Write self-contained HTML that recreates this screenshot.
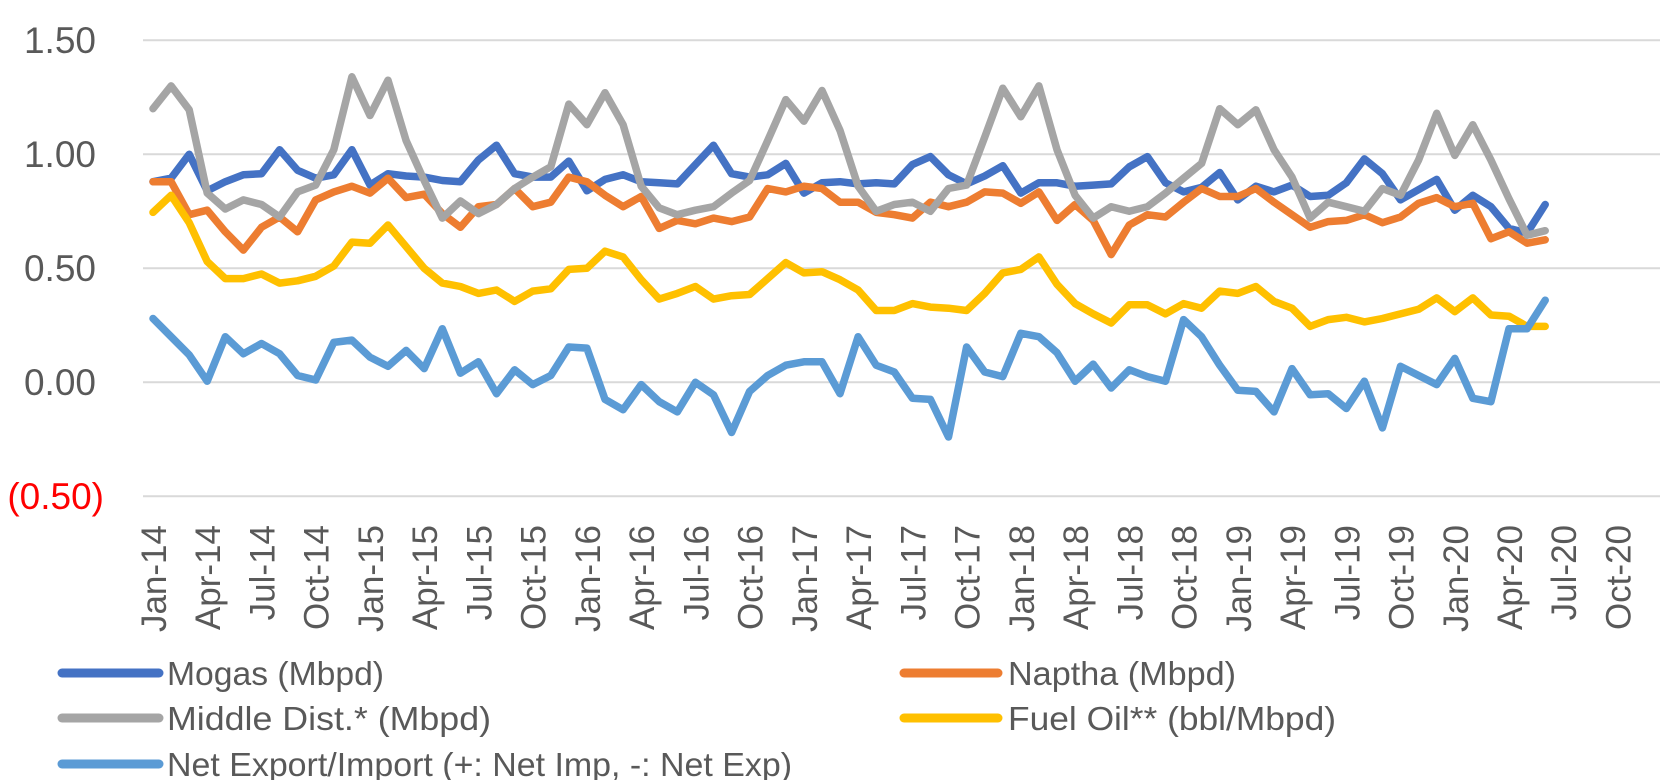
<!DOCTYPE html>
<html><head><meta charset="utf-8"><style>html,body{margin:0;padding:0;background:#fff;}svg{display:block;}</style></head>
<body>
<svg id="c" width="1678" height="780" xmlns="http://www.w3.org/2000/svg" font-family="'Liberation Sans', sans-serif">
<g stroke="#D9D9D9" stroke-width="2">
<line x1="143" y1="40.3" x2="1660" y2="40.3"/>
<line x1="143" y1="154.3" x2="1660" y2="154.3"/>
<line x1="143" y1="268.3" x2="1660" y2="268.3"/>
<line x1="143" y1="382.3" x2="1660" y2="382.3"/>
<line x1="143" y1="496.3" x2="1660" y2="496.3"/>
</g>
<g font-size="37" fill="#595959" text-anchor="end">
<text x="96" y="53">1.50</text>
<text x="96" y="167">1.00</text>
<text x="96" y="281">0.50</text>
<text x="96" y="395">0.00</text>
<text x="104" y="509" fill="#FF0000">(0.50)</text>
</g>
<g id="xl" font-size="35" fill="#595959" text-anchor="end"></g>
<g id="series" fill="none" stroke-width="7.5" stroke-linejoin="round" stroke-linecap="round"></g>
<g stroke-width="9" stroke-linecap="round">
<line x1="62" y1="673" x2="159" y2="673" stroke="#4472C4"/>
<line x1="62" y1="718" x2="159" y2="718" stroke="#A5A5A5"/>
<line x1="62" y1="764" x2="159" y2="764" stroke="#5B9BD5"/>
<line x1="904" y1="673" x2="998" y2="673" stroke="#ED7D31"/>
<line x1="904" y1="718" x2="998" y2="718" stroke="#FFC000"/>
</g>
<g font-size="33" fill="#595959">
<text x="167" y="685" textLength="217" lengthAdjust="spacingAndGlyphs">Mogas (Mbpd)</text>
<text x="167" y="730" textLength="324" lengthAdjust="spacingAndGlyphs">Middle Dist.* (Mbpd)</text>
<text x="167" y="776" textLength="625" lengthAdjust="spacingAndGlyphs">Net Export/Import (+: Net Imp, -: Net Exp)</text>
<text x="1008" y="685" textLength="228" lengthAdjust="spacingAndGlyphs">Naptha (Mbpd)</text>
<text x="1008" y="730" textLength="328" lengthAdjust="spacingAndGlyphs">Fuel Oil** (bbl/Mbpd)</text>
</g>
</svg>
<script>
const mog=[0.88,0.895,1.0,0.84,0.88,0.91,0.915,1.02,0.93,0.895,0.91,1.02,0.865,0.915,0.905,0.90,0.885,0.88,0.975,1.04,0.915,0.90,0.90,0.97,0.84,0.89,0.91,0.88,0.875,0.87,0.955,1.04,0.915,0.90,0.91,0.96,0.83,0.875,0.88,0.87,0.875,0.87,0.955,0.99,0.91,0.87,0.905,0.95,0.83,0.875,0.875,0.86,0.865,0.87,0.945,0.99,0.875,0.835,0.855,0.92,0.80,0.86,0.835,0.865,0.815,0.82,0.875,0.98,0.915,0.80,0.845,0.89,0.755,0.82,0.77,0.675,0.655,0.78];
const nap=[0.88,0.88,0.735,0.755,0.66,0.58,0.68,0.725,0.66,0.80,0.835,0.86,0.83,0.895,0.81,0.825,0.74,0.68,0.77,0.78,0.85,0.77,0.79,0.90,0.88,0.82,0.77,0.815,0.675,0.71,0.695,0.72,0.705,0.725,0.85,0.835,0.86,0.85,0.79,0.79,0.745,0.735,0.72,0.79,0.77,0.79,0.835,0.83,0.785,0.835,0.71,0.78,0.71,0.56,0.69,0.735,0.725,0.79,0.85,0.815,0.815,0.85,0.79,0.735,0.68,0.705,0.71,0.735,0.70,0.725,0.785,0.81,0.77,0.785,0.63,0.66,0.61,0.625];
const mid=[1.20,1.30,1.195,0.83,0.76,0.80,0.78,0.725,0.835,0.865,1.02,1.34,1.17,1.325,1.06,0.885,0.72,0.795,0.74,0.78,0.85,0.90,0.945,1.22,1.13,1.27,1.13,0.86,0.765,0.735,0.755,0.77,0.83,0.885,1.06,1.24,1.145,1.28,1.105,0.86,0.75,0.78,0.79,0.75,0.85,0.865,1.075,1.29,1.165,1.30,1.02,0.82,0.72,0.77,0.75,0.77,0.83,0.895,0.96,1.20,1.13,1.195,1.02,0.90,0.72,0.79,0.77,0.75,0.85,0.82,0.975,1.18,0.995,1.13,0.975,0.805,0.645,0.665];
const fuel=[0.745,0.82,0.70,0.53,0.455,0.455,0.475,0.435,0.445,0.465,0.51,0.615,0.61,0.69,0.595,0.50,0.435,0.42,0.39,0.405,0.355,0.40,0.41,0.495,0.50,0.575,0.55,0.45,0.365,0.39,0.42,0.365,0.38,0.385,0.455,0.525,0.48,0.485,0.45,0.405,0.315,0.315,0.345,0.33,0.325,0.315,0.39,0.48,0.495,0.55,0.43,0.345,0.30,0.26,0.34,0.34,0.30,0.345,0.325,0.40,0.39,0.42,0.355,0.325,0.245,0.275,0.285,0.265,0.28,0.30,0.32,0.37,0.31,0.37,0.295,0.29,0.245,0.245];
const net=[0.28,0.20,0.12,0.005,0.20,0.125,0.17,0.125,0.03,0.01,0.175,0.185,0.11,0.07,0.14,0.06,0.235,0.04,0.09,-0.05,0.055,-0.01,0.03,0.155,0.15,-0.075,-0.12,-0.01,-0.085,-0.13,0.0,-0.055,-0.22,-0.04,0.03,0.075,0.09,0.09,-0.05,0.20,0.075,0.045,-0.07,-0.075,-0.24,0.155,0.045,0.025,0.215,0.20,0.13,0.005,0.08,-0.025,0.055,0.025,0.005,0.275,0.20,0.075,-0.035,-0.04,-0.13,0.06,-0.055,-0.05,-0.115,0.005,-0.2,0.07,0.03,-0.01,0.105,-0.07,-0.085,0.235,0.235,0.36];
const NS="http://www.w3.org/2000/svg";
const g=document.getElementById('series');
function pl(d,c){const p=document.createElementNS(NS,'polyline');p.setAttribute('points',d.map((v,i)=>(153+18.08*i).toFixed(1)+','+(382.3-228*v).toFixed(1)).join(' '));p.setAttribute('stroke',c);g.appendChild(p);}
pl(mog,'#4472C4');pl(nap,'#ED7D31');pl(mid,'#A5A5A5');pl(fuel,'#FFC000');pl(net,'#5B9BD5');
const xl=document.getElementById('xl');const mn=['Jan','Apr','Jul','Oct'];
for(let i=0;i<=81;i+=3){const x=153+18.08*i+13;const t=document.createElementNS(NS,'text');t.setAttribute('transform','translate('+x.toFixed(1)+',525) rotate(-90)');t.textContent=mn[(i%12)/3]+'-'+(14+Math.floor(i/12));xl.appendChild(t);}
</script>
</body></html>
